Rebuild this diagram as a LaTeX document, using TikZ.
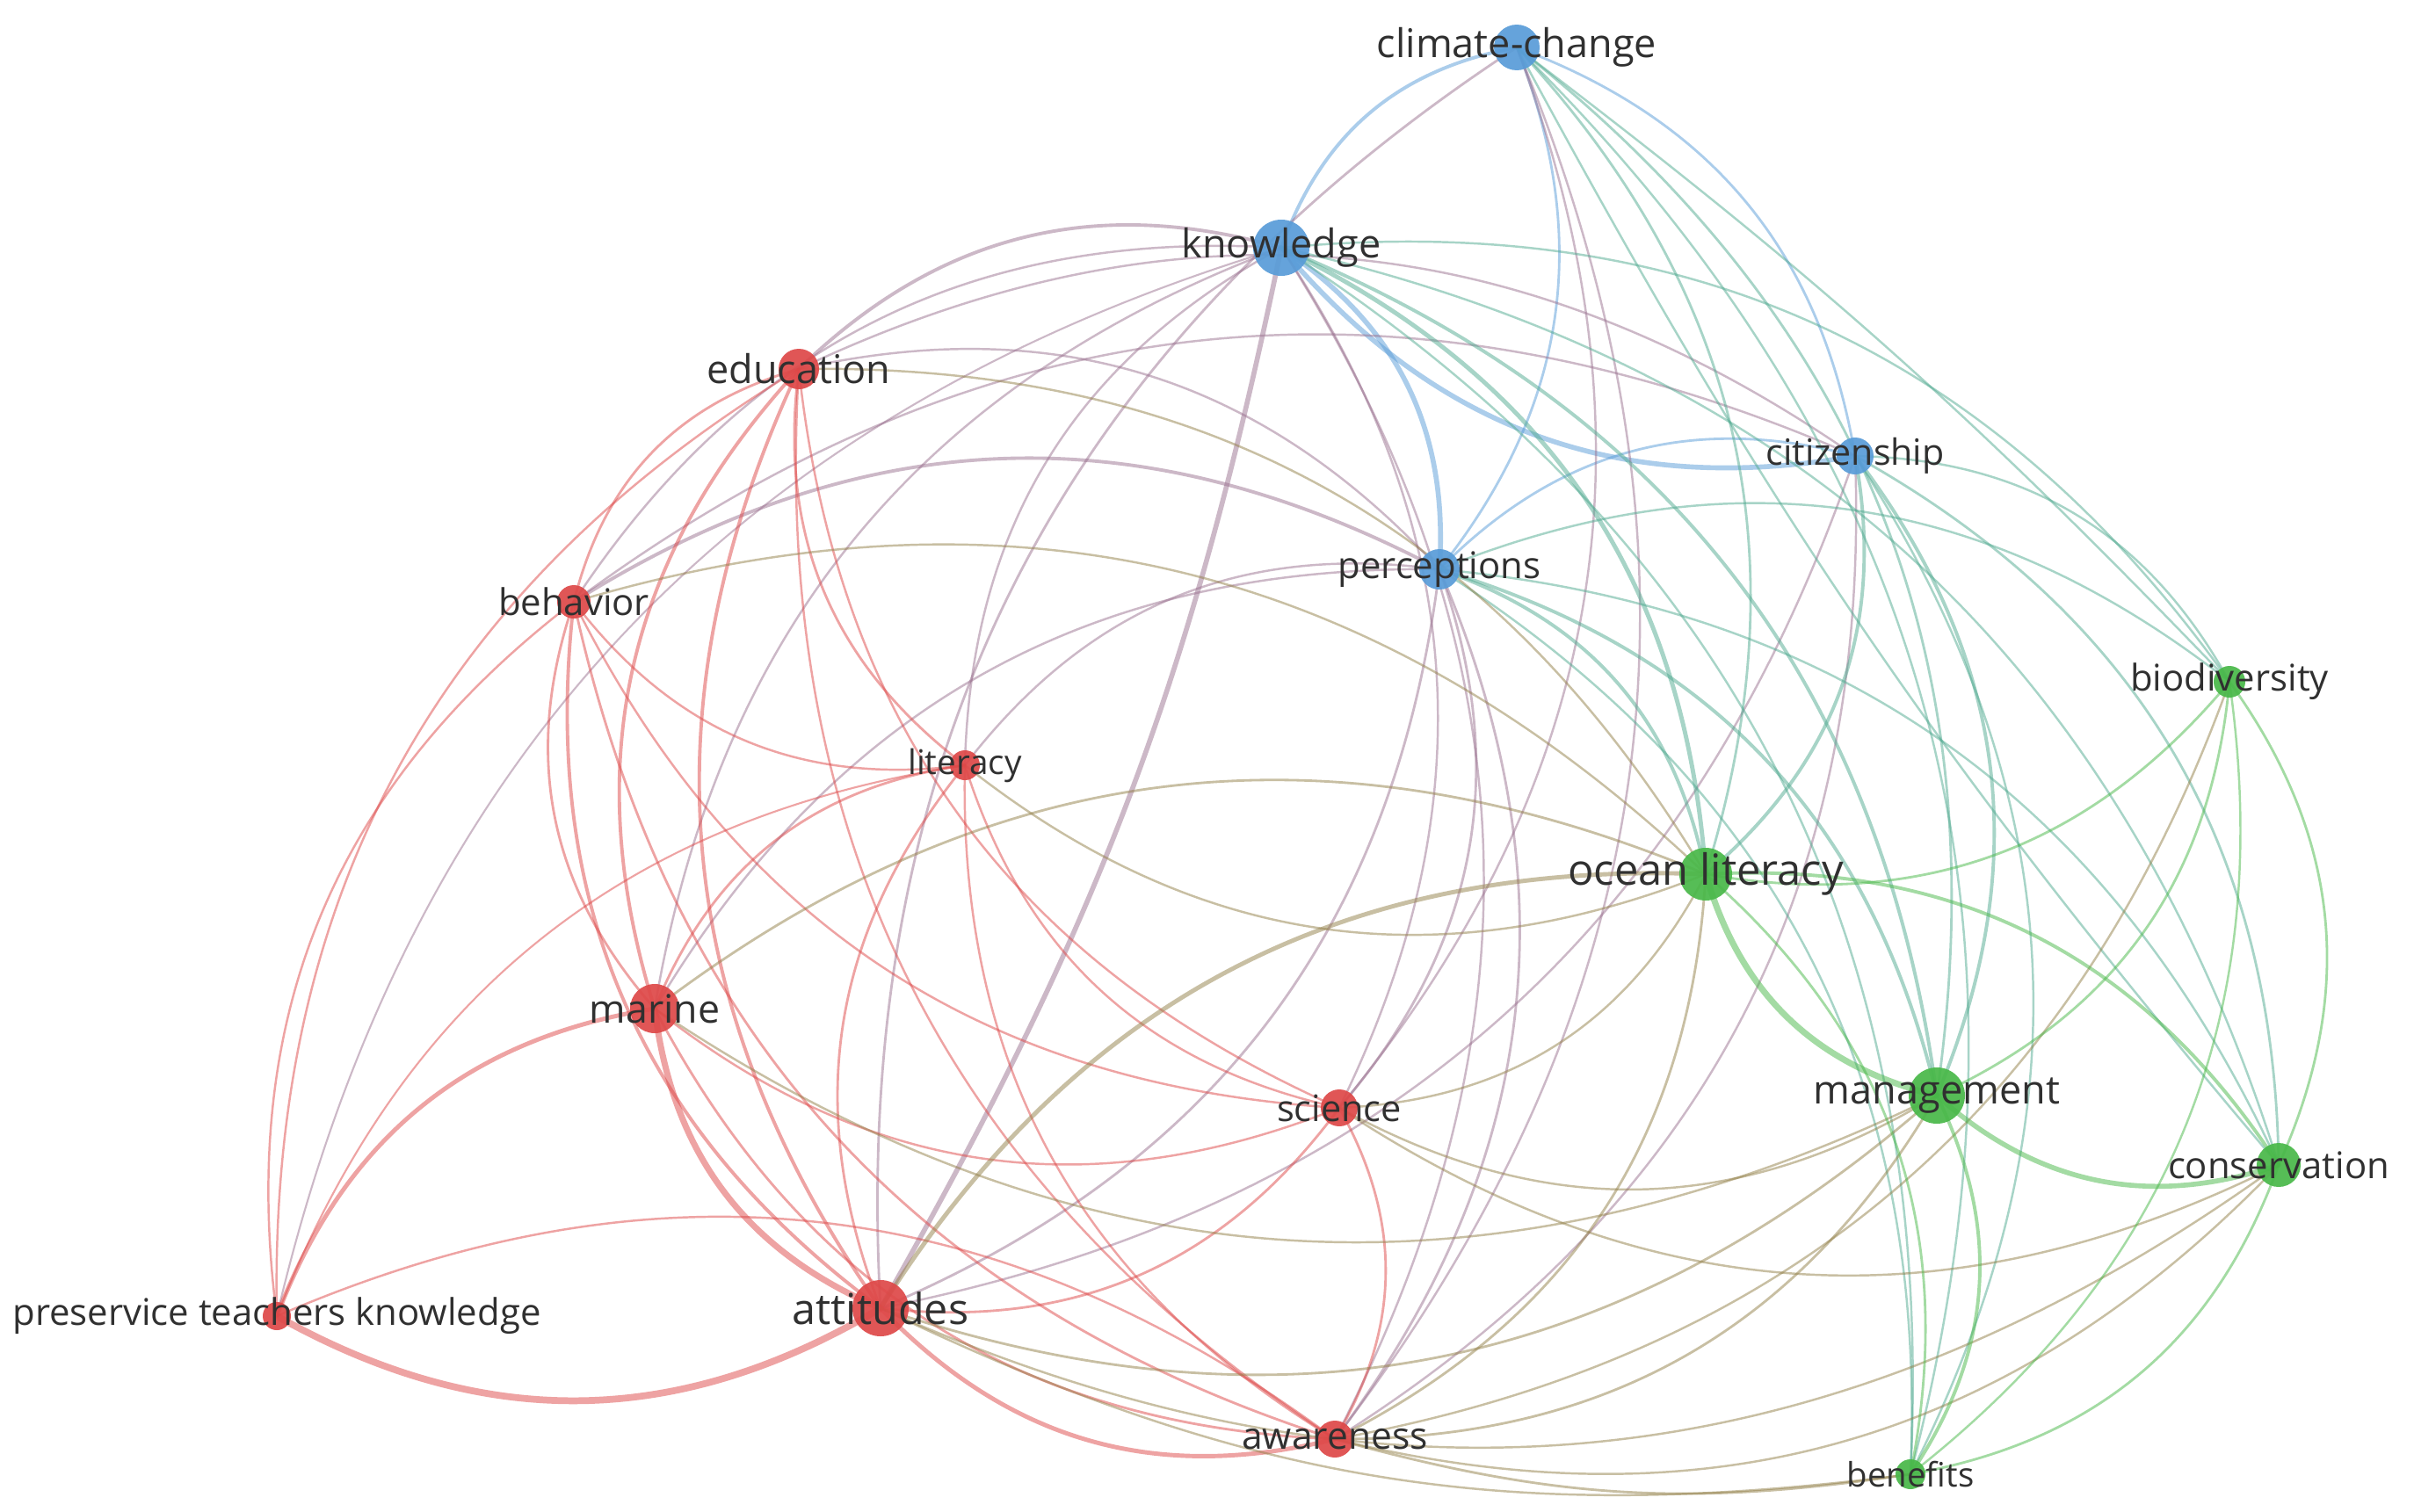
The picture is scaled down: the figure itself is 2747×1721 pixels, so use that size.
\documentclass[tikz,border=0pt]{standalone}
\usepackage{fontspec}
\setmainfont{Open Sans}
\usetikzlibrary{calc}
\pgfdeclarelayer{bg}
\pgfsetlayers{bg,main}
\definecolor{cred}{RGB}{222,72,72}
\definecolor{cblue}{RGB}{88,156,216}
\definecolor{cgreen}{RGB}{72,184,72}
\definecolor{txt}{RGB}{48,48,48}
\colorlet{Ccc}{cblue}\colorlet{Ckn}{cblue}\colorlet{Cci}{cblue}\colorlet{Cpe}{cblue}
\colorlet{Ced}{cred}\colorlet{Cbe}{cred}\colorlet{Cli}{cred}\colorlet{Cma}{cred}
\colorlet{Csc}{cred}\colorlet{Cat}{cred}\colorlet{Caw}{cred}\colorlet{Cpt}{cred}
\colorlet{Cbi}{cgreen}\colorlet{Col}{cgreen}\colorlet{Cmg}{cgreen}\colorlet{Cco}{cgreen}\colorlet{Cbf}{cgreen}
\tikzset{
  dot/.style={circle,inner sep=0pt,draw=none,fill opacity=0.92},
  lbl/.style={text=txt,inner sep=0pt},
  edge/.style={draw opacity=0.5,line cap=round}
}
% node: name, x, y, radius(px), colour, label, font size (pt)
\newcommand\N[7]{%
  \node[dot,fill=#5,minimum size={2*#4*0.01cm}] (#1) at (#2,#3) {};
  \node[lbl,font=\fontsize{#7}{#7}\selectfont] (#1l) at (#2,#3) {#6};}
% edge: from, to, width, bend factor (+ bulge outward / - inward)
\newcommand\E[4]{%
  \path[edge,draw=C#1!50!C#2,line width=#3]
    let \p1=(#1.center), \p2=(#2.center),
        \n1={#4*30*sign(-((\y2)-(\y1))/100*(((\x1)+(\x2))/200-3.983)+((\x2)-(\x1))/100*(((\y1)+(\y2))/200+2.561))}
    in (#1.center) to[bend left=\n1] (#2.center);}
\begin{document}
\begin{tikzpicture}[x=0.01cm,y=-0.01cm]
\useasboundingbox (0,0) rectangle (2747,1721);
% nodes
\N{cc}{1726}{54}{26}{cblue}{climate-change}{12.8}
\N{kn}{1458}{282}{32}{cblue}{knowledge}{12.8}
\N{ci}{2111}{519}{21}{cblue}{citizenship}{11.7}
\N{pe}{1638}{648}{23}{cblue}{perceptions}{11.9}
\N{ed}{909}{420}{23}{cred}{education}{12.8}
\N{be}{653}{685}{19}{cred}{behavior}{11.9}
\N{li}{1098}{871}{17}{cred}{literacy}{11.0}
\N{ma}{745}{1148}{28}{cred}{marine}{12.7}
\N{sc}{1524}{1261}{21}{cred}{science}{11.8}
\N{at}{1002}{1489}{32}{cred}{attitudes}{13.8}
\N{aw}{1519}{1638}{21}{cred}{awareness}{12.1}
\N{pt}{315}{1498}{16}{cred}{preservice teachers knowledge}{11.9}
\N{bi}{2537}{776}{18}{cgreen}{biodiversity}{11.9}
\N{ol}{1941}{995}{30}{cgreen}{ocean literacy}{13.9}
\N{mg}{2204}{1247}{32}{cgreen}{management}{12.8}
\N{co}{2593}{1326}{25}{cgreen}{conservation}{11.9}
\N{bf}{2174}{1678}{17}{cgreen}{benefits}{10.9}
\begin{pgfonlayer}{bg}
\fill[white] (0,0) rectangle (2747,1721);
% blue internal
\E{kn}{cc}{1.1pt}{1}
\E{cc}{ci}{0.8pt}{1}
\E{cc}{pe}{0.8pt}{1}
\E{kn}{ci}{1.6pt}{-1}
\E{kn}{pe}{1.6pt}{1}
\E{ci}{pe}{0.8pt}{1}
% blue-red
\E{kn}{ed}{1.1pt}{1}
\E{kn}{be}{0.7pt}{1}
\E{kn}{li}{0.7pt}{1}
\E{kn}{ma}{0.7pt}{1}
\E{kn}{at}{1.6pt}{-0.3}
\E{kn}{sc}{0.7pt}{1}
\E{kn}{aw}{0.7pt}{1}
\E{kn}{pt}{0.6pt}{1}
\E{pe}{ed}{0.7pt}{1}
\E{pe}{be}{1.1pt}{1}
\E{pe}{li}{0.7pt}{1}
\E{pe}{ma}{0.7pt}{1}
\E{pe}{at}{0.8pt}{1}
\E{pe}{sc}{0.8pt}{1}
\E{pe}{aw}{0.8pt}{1}
\E{ci}{ed}{0.7pt}{1}
\E{ci}{be}{0.7pt}{1}
\E{ci}{at}{0.7pt}{1}
\E{ci}{aw}{0.7pt}{1}
\E{cc}{at}{0.8pt}{1}
\E{cc}{sc}{0.7pt}{1}
\E{cc}{aw}{0.7pt}{1}
% blue-green
\E{cc}{ol}{0.8pt}{1}
\E{cc}{mg}{0.8pt}{1}
\E{cc}{bi}{0.7pt}{0.15}
\E{cc}{co}{0.7pt}{-0.2}
\E{cc}{bf}{0.7pt}{1}
\E{kn}{ol}{1.4pt}{1}
\E{kn}{mg}{1.1pt}{1}
\E{kn}{bi}{0.7pt}{1}
\E{kn}{co}{0.7pt}{1}
\E{kn}{bf}{0.7pt}{1}
\E{ci}{ol}{1.1pt}{1}
\E{ci}{mg}{1.1pt}{1}
\E{ci}{bi}{0.7pt}{1}
\E{ci}{co}{0.8pt}{1}
\E{ci}{bf}{0.7pt}{1}
\E{pe}{ol}{1.1pt}{1}
\E{pe}{mg}{1.1pt}{1}
\E{pe}{bi}{0.7pt}{1}
\E{pe}{bf}{0.7pt}{1}
\E{pe}{co}{0.7pt}{1}
% red internal
\E{ed}{be}{0.8pt}{1}
\E{ed}{li}{0.8pt}{1}
\E{ed}{ma}{1.1pt}{1}
\E{ed}{at}{1.1pt}{1}
\E{ed}{sc}{0.7pt}{1}
\E{ed}{aw}{0.7pt}{1}
\E{ed}{pt}{0.7pt}{1}
\E{be}{li}{0.7pt}{1}
\E{be}{ma}{0.8pt}{1}
\E{be}{at}{1.1pt}{1}
\E{be}{sc}{0.7pt}{1}
\E{be}{aw}{0.8pt}{1}
\E{be}{pt}{0.7pt}{1}
\E{li}{ma}{0.8pt}{1}
\E{li}{at}{0.8pt}{1}
\E{li}{sc}{0.7pt}{1}
\E{li}{aw}{0.7pt}{1}
\E{li}{pt}{0.6pt}{1}
\E{ma}{at}{2.0pt}{1}
\E{ma}{sc}{0.7pt}{1}
\E{ma}{aw}{0.8pt}{1}
\E{ma}{pt}{1.4pt}{1}
\E{sc}{at}{0.8pt}{1}
\E{sc}{aw}{0.8pt}{1}
\E{at}{aw}{1.4pt}{1}
\E{at}{pt}{2.2pt}{1}
\E{aw}{pt}{0.7pt}{-1}
% red-green
\E{ed}{ol}{0.7pt}{1}
\E{be}{ol}{0.7pt}{1}
\E{li}{ol}{0.7pt}{1}
\E{ma}{ol}{0.8pt}{-1}
\E{ma}{mg}{0.7pt}{1}
\E{sc}{ol}{0.7pt}{1}
\E{sc}{mg}{0.7pt}{1}
\E{sc}{co}{0.7pt}{1}
\E{at}{ol}{1.4pt}{-1}
\E{at}{mg}{0.8pt}{1}
\E{at}{co}{0.7pt}{1}
\E{at}{bf}{0.7pt}{0.55}
\E{aw}{ol}{0.8pt}{1}
\E{aw}{mg}{0.8pt}{1}
\E{aw}{co}{0.7pt}{1}
\E{aw}{bf}{0.8pt}{0.4}
\E{aw}{bi}{0.7pt}{1}
% green internal
\E{ol}{mg}{2.0pt}{-1}
\E{ol}{co}{1.1pt}{1}
\E{ol}{bi}{0.8pt}{1}
\E{ol}{bf}{0.8pt}{1}
\E{mg}{co}{1.6pt}{1}
\E{mg}{bi}{0.8pt}{1}
\E{mg}{bf}{1.1pt}{1}
\E{co}{bi}{0.8pt}{1}
\E{co}{bf}{0.8pt}{1}
\E{bi}{bf}{0.7pt}{1}
\end{pgfonlayer}
\end{tikzpicture}
\end{document}
